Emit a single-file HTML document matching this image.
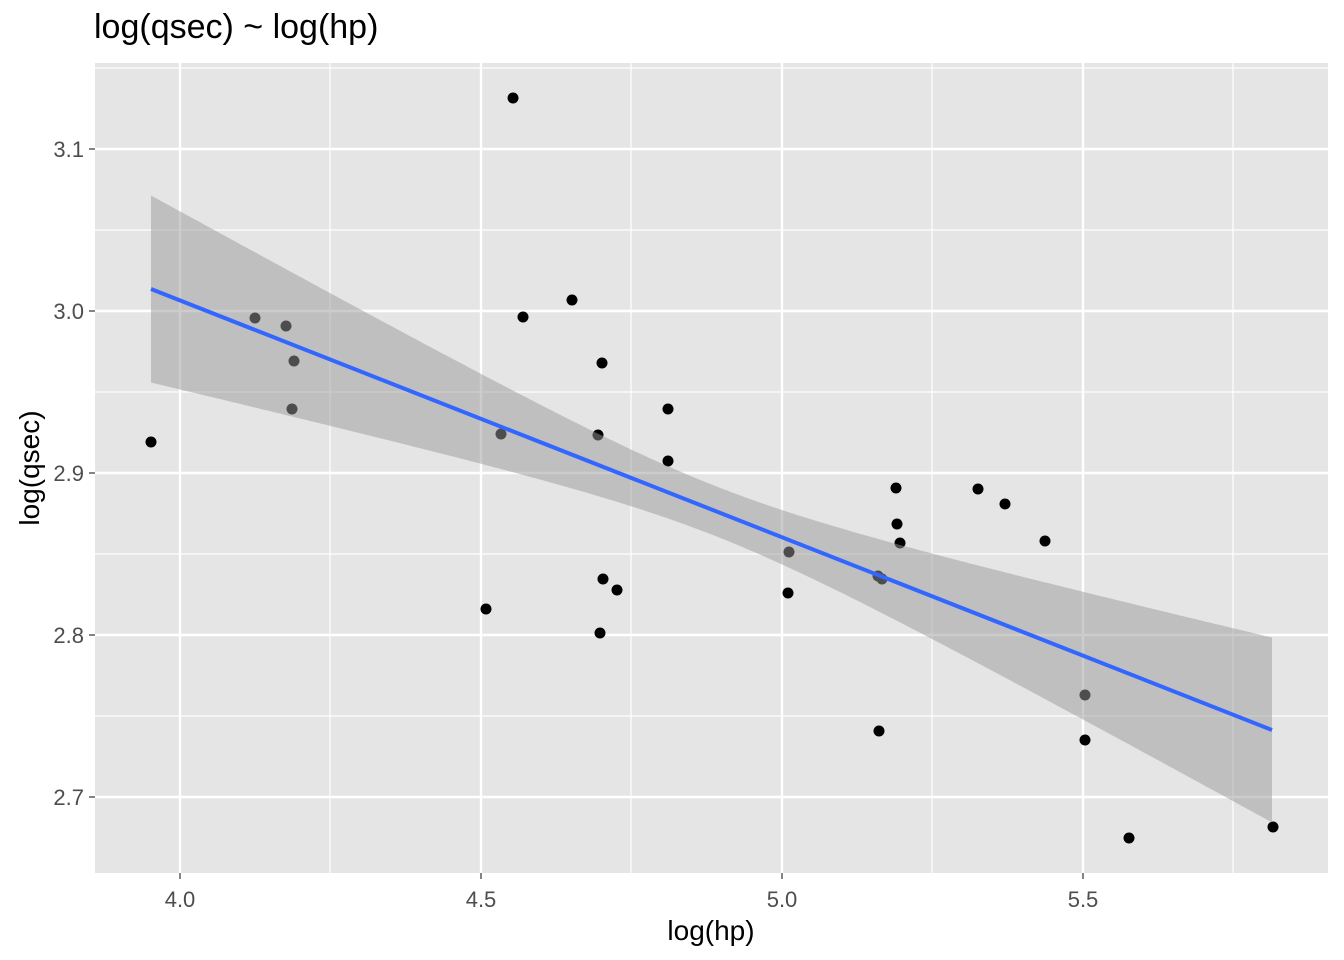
<!DOCTYPE html>
<html><head><meta charset="utf-8"><style>body{margin:0;background:#fff}svg{display:block}</style></head><body>
<svg id="s" width="1344" height="960" xmlns="http://www.w3.org/2000/svg" font-family="Liberation Sans, sans-serif">
<rect x="95" y="63" width="1233" height="810" fill="#e5e5e5"/>
<g stroke="#fff" stroke-width="1.2">
<line x1="330" y1="63" x2="330" y2="873"/><line x1="631" y1="63" x2="631" y2="873"/><line x1="932" y1="63" x2="932" y2="873"/><line x1="1233" y1="63" x2="1233" y2="873"/>
<line x1="95" y1="68" x2="1328" y2="68"/><line x1="95" y1="230" x2="1328" y2="230"/><line x1="95" y1="392" x2="1328" y2="392"/><line x1="95" y1="554" x2="1328" y2="554"/><line x1="95" y1="716" x2="1328" y2="716"/>
</g>
<g stroke="#fff" stroke-width="2.4">
<line x1="180" y1="63" x2="180" y2="873"/><line x1="481" y1="63" x2="481" y2="873"/><line x1="782" y1="63" x2="782" y2="873"/><line x1="1083" y1="63" x2="1083" y2="873"/>
<line x1="95" y1="149" x2="1328" y2="149"/><line x1="95" y1="311" x2="1328" y2="311"/><line x1="95" y1="473" x2="1328" y2="473"/><line x1="95" y1="635" x2="1328" y2="635"/><line x1="95" y1="797" x2="1328" y2="797"/>
</g>
<g id="pts" fill="#000"></g>
<path id="rib" fill="#999" fill-opacity="0.5"/>
<line x1="151" y1="289" x2="1272" y2="730" stroke="#3366ff" stroke-width="4"/>
<g stroke="#333" stroke-width="1.2">
<line x1="180" y1="873" x2="180" y2="879"/><line x1="481" y1="873" x2="481" y2="879"/><line x1="782" y1="873" x2="782" y2="879"/><line x1="1083" y1="873" x2="1083" y2="879"/>
<line x1="89" y1="149" x2="95" y2="149"/><line x1="89" y1="311" x2="95" y2="311"/><line x1="89" y1="473" x2="95" y2="473"/><line x1="89" y1="635" x2="95" y2="635"/><line x1="89" y1="797" x2="95" y2="797"/>
</g>
<g fill="#4d4d4d" font-size="22" text-anchor="middle">
<text x="180" y="907">4.0</text><text x="481" y="907">4.5</text><text x="782" y="907">5.0</text><text x="1083" y="907">5.5</text>
</g>
<g fill="#4d4d4d" font-size="22" text-anchor="end">
<text x="84" y="157">3.1</text><text x="84" y="319">3.0</text><text x="84" y="481">2.9</text><text x="84" y="643">2.8</text><text x="84" y="805">2.7</text>
</g>
<text x="711" y="940" font-size="28" text-anchor="middle">log(hp)</text>
<text x="39" y="468" font-size="28" text-anchor="middle" transform="rotate(-90 39 468)">log(qsec)</text>
<text x="94" y="38" font-size="34">log(qsec) ~ log(hp)</text>
</svg>
<script>
var P=[[151,442],[513,98],[255,318],[286,326],[294,361],[292,409],[501,434],[486,609],[523,317],[572,300],[602,363],[598,435],[600,633],[603,579],[617,590],[668,409],[668,461],[789,552],[788,593],[878,576],[882,579],[879,731],[896,488],[897,524],[900,543],[978,489],[1005,504],[1045,541],[1085,695],[1085,740],[1129,838],[1273,827]];
var g=document.getElementById('pts'),ns='http://www.w3.org/2000/svg';
P.forEach(function(p){var c=document.createElementNS(ns,'circle');c.setAttribute('cx',p[0]);c.setAttribute('cy',p[1]);c.setAttribute('r',5.5);g.appendChild(c);});
var up=[],lo=[];
for(var x=151;x<=1272;x+=5){var xx=Math.min(x,1272);var c=289+(xx-151)*441/1121;var h=Math.sqrt(625+0.02552*(xx-715)*(xx-715));up.push(xx+','+(c-h).toFixed(1));lo.unshift(xx+','+(c+h).toFixed(1));}
var xx=1272,c=730,h=Math.sqrt(625+0.02552*557*557);up.push(xx+','+(c-h).toFixed(1));lo.unshift(xx+','+(c+h).toFixed(1));
document.getElementById('rib').setAttribute('d','M'+up.join('L')+'L'+lo.join('L')+'Z');
</script>
</body></html>
